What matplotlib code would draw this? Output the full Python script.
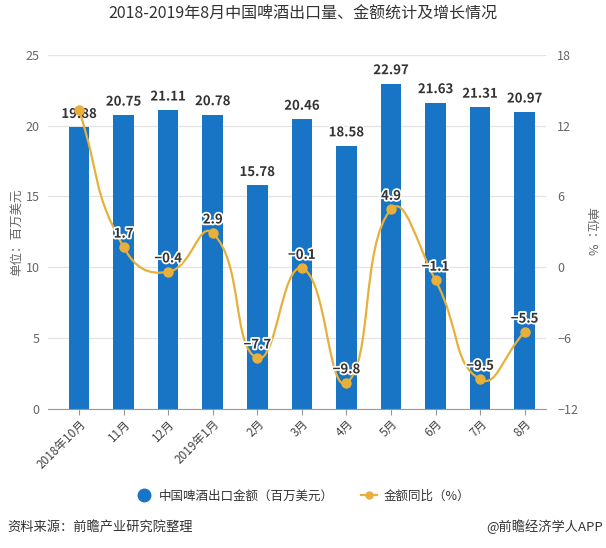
import numpy as np
import matplotlib
matplotlib.use("Agg")
import matplotlib.pyplot as plt
import matplotlib.patheffects as pe
from matplotlib.path import Path
from matplotlib.patches import PathPatch

plt.rcParams['font.family'] = ['Noto Sans CJK SC', 'DejaVu Sans']

# data
months = ["2018年10月", "11月", "12月", "2019年1月", "2月", "3月", "4月", "5月", "6月", "7月", "8月"]
export_value = [19.88, 20.75, 21.11, 20.78, 15.78, 20.46, 18.58, 22.97, 21.63, 21.31, 20.97]
yoy_growth = [13.3, 1.7, -0.4, 2.9, -7.7, -0.1, -9.8, 4.9, -1.1, -9.5, -5.5]
yoy_labels = ["", "1.7", "-0.4", "2.9", "-7.7", "-0.1", "-9.8", "4.9", "-1.1", "-9.5", "-5.5"]

bar_color = "#1874c4"
line_color = "#e8b03a"
grid_color = "#e3e3e3"
tick_color = "#666666"

fig = plt.figure(figsize=(6.06, 5.48), dpi=100)
ax = fig.add_axes([0.079, 0.254, 0.822, 0.646])
ax2 = ax.twinx()

x = np.arange(len(months))
ax.bar(x, export_value, width=0.46, color=bar_color, zorder=2)
ax.set_xlim(-0.7, 10.48)
ax.set_ylim(0, 25)
ax.set_yticks([0, 5, 10, 15, 20, 25])
ax.grid(axis="y", color=grid_color, linewidth=0.9, zorder=0)
ax.set_axisbelow(True)
for s in ["top", "right", "left"]:
    ax.spines[s].set_visible(False)
ax.spines["bottom"].set_color("#999999")
ax.tick_params(axis="y", length=0, labelsize=9, colors=tick_color, pad=6)
ax.tick_params(axis="x", length=4, color="#999999", labelsize=8.5, colors="#444444", pad=2)
ax.set_xticks(x)
ax.set_xticklabels(months, rotation=45, ha="right", rotation_mode="anchor")
ax.set_ylabel("单位：百万美元", fontsize=9, color=tick_color, labelpad=2)

ax2.set_ylim(-12, 18)
ax2.set_yticks([-12, -6, 0, 6, 12, 18])
for s in ["top", "right", "left", "bottom"]:
    ax2.spines[s].set_visible(False)
ax2.tick_params(axis="y", length=0, labelsize=9, colors=tick_color, pad=8)
ax2.set_ylabel("单位：%", fontsize=9, color=tick_color, rotation=270, labelpad=14)

stroke = [pe.withStroke(linewidth=2.5, foreground="white")]
for xi, v in zip(x, export_value):
    ax.text(xi, v + 0.45, f"{v:.2f}", ha="center", va="bottom", fontsize=9.5,
            fontweight="bold", color="#333333", path_effects=stroke, zorder=5)

# smooth curve (bezier through the points, computed in display space)
pts = ax2.transData.transform(np.column_stack([x, yoy_growth]))
smooth = 0.5
verts = [pts[0]]
codes = [Path.MOVETO]
cps = []
n = len(pts)
for i in range(n):
    prev = pts[i - 1] if i > 0 else pts[i]
    nxt = pts[i + 1] if i < n - 1 else pts[i]
    v = (nxt - prev) * smooth
    d0 = np.hypot(*(pts[i] - prev))
    d1 = np.hypot(*(nxt - pts[i]))
    tot = d0 + d1 if d0 + d1 > 0 else 1
    cps.append((pts[i] - v * d0 / tot, pts[i] + v * d1 / tot))
for i in range(n - 1):
    verts += [cps[i][1], cps[i + 1][0], pts[i + 1]]
    codes += [Path.CURVE4] * 3
inv = ax2.transData.inverted()
curve = Path(inv.transform(np.array(verts)), codes)
ax2.add_patch(PathPatch(curve, facecolor="none", edgecolor=line_color, linewidth=1.6, zorder=3))
ax2.plot(x, yoy_growth, linestyle="none", marker="o", markersize=6.5, color=line_color, zorder=4)

for xi, v, lab in zip(x, yoy_growth, yoy_labels):
    if lab:
        ax2.text(xi, v + 0.55, lab.replace("-", "−"), ha="center", va="bottom", fontsize=9.5,
                 fontweight="bold", color="#333333", path_effects=stroke, zorder=6)

fig.text(0.5, 0.974, "2018-2019年8月中国啤酒出口量、金额统计及增长情况", ha="center", va="center",
         fontsize=11.5, color="#333333")

# legend
from matplotlib.lines import Line2D
handles = [Line2D([], [], linestyle="none", marker="o", markersize=9, color=bar_color),
           Line2D([], [], color=line_color, marker="o", markersize=5, linewidth=1.6)]
fig.legend(handles, ["中国啤酒出口金额（百万美元）", "金额同比（%）"], loc="center",
           bbox_to_anchor=(0.5, 0.095), ncol=2, frameon=False, fontsize=9,
           handlelength=1.3, columnspacing=2.2, handletextpad=0.5, labelcolor="#333333")

fig.text(0.012, 0.038, "资料来源：前瞻产业研究院整理", ha="left", va="center", fontsize=9.5,
         style="italic", color="#333333")
fig.text(0.995, 0.038, "@前瞻经济学人APP", ha="right", va="center", fontsize=9.5, color="#333333")

fig.savefig("out.png", dpi=100)
